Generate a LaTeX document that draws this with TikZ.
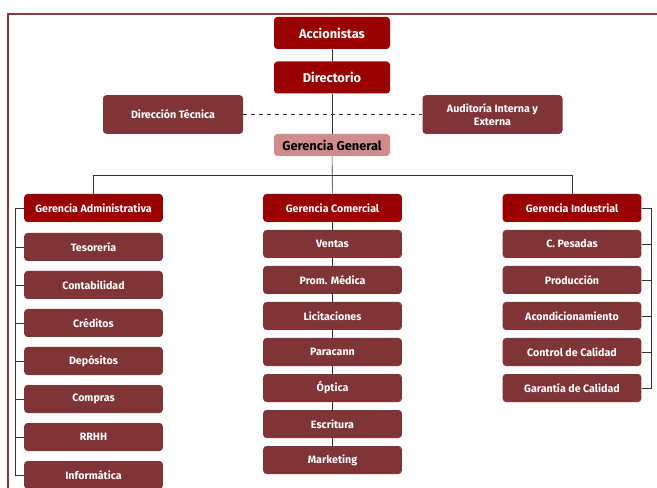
\documentclass[tikz,border=0pt]{standalone}
\usepackage{fontspec}
\setmainfont{Fira Sans}
\usetikzlibrary{backgrounds}
\definecolor{topred}{HTML}{990000}
\definecolor{muted}{HTML}{7F3538}
\definecolor{pinkgg}{HTML}{D08C8C}
\definecolor{framered}{HTML}{8A3A3C}
\tikzset{
  box/.style={fill=muted, text=white, rounded corners=2.5pt, inner sep=0pt,
    minimum width=104pt, minimum height=21pt, align=center,
    font=\fontsize{8}{9.5}\selectfont\bfseries},
  topbox/.style={box, fill=topred, minimum width=87pt, minimum height=24pt,
    font=\fontsize{9.6}{11}\selectfont\bfseries},
  headbox/.style={box, fill=topred},
  sidebox/.style={box, minimum width=105pt, minimum height=29pt},
  link/.style={draw=black!80, line width=0.5pt}
}
\begin{document}
\begin{tikzpicture}[x=0.75pt,y=-0.75pt]
  \useasboundingbox (0,0) rectangle (657,488);
  % frame
  \draw[framered, line width=1.6pt] (8,490) -- (8,14) -- (660,14);
  % top of the chart
  \node[topbox] (acc) at (332,33) {Accionistas};
  \node[topbox] (dir) at (332,77.5) {Directorio};
  \node[sidebox] (dt) at (173,114.5) {Dirección Técnica};
  \node[sidebox] (aud) at (492.5,114.5) {Auditoría Interna y\\Externa};
  \node[topbox, fill=pinkgg, text=black, minimum height=16.5pt] (gg) at (332,145) {Gerencia General};
  % the three managements
  \node[headbox] (ga) at (93.5,208) {Gerencia Administrativa};
  \node[headbox] (gc) at (332.5,208) {Gerencia Comercial};
  \node[headbox] (gi) at (572,208) {Gerencia Industrial};
  % left column
  \foreach \name/\txt [count=\i] in {tes/Tesorería,con/Contabilidad,cre/Créditos,
      dep/Depósitos,com/Compras,rrhh/RRHH,inf/Informática}
    \node[box] (\name) at (93.5,{209+38*\i}) {\txt};
  % middle column
  \foreach \name/\txt [count=\i] in {ven/Ventas,pro/Prom. Médica,lic/Licitaciones,
      par/Paracann,opt/Óptica,esc/Escritura,mkt/Marketing}
    \node[box] (\name) at (332.5,{208+36*\i}) {\txt};
  % right column
  \foreach \name/\txt [count=\i] in {cpe/C. Pesadas,prd/Producción,aco/Acondicionamiento,
      cca/Control de Calidad,gca/Garantía de Calidad}
    \node[box] (\name) at (572,{208+36*\i}) {\txt};
  \coordinate (bus) at (0,175);
  \coordinate (lrail) at (15.5,0);
  \coordinate (rrail) at (651,0);
  \begin{scope}[on background layer]
    \draw[link] (acc) -- (dir);
    \draw[link] (dir) -- (gg);
    \draw[link, dashed] (dt) -- (aud);
    \draw[link] (gg) -- (gc);
    \draw[link] (ga.north) -- (ga.north |- bus) -- (gi.north |- bus) -- (gi.north);
    \draw[link] (gc) -- (mkt);
    \draw[link] (ga.west) -| (lrail |- inf) -- (inf.west);
    \foreach \n in {tes,con,cre,dep,com,rrhh}
      \draw[link] (\n.west) -- (lrail |- \n);
    \draw[link] (gi.east) -| (rrail |- gca) -- (gca.east);
    \foreach \n in {cpe,prd,aco,cca}
      \draw[link] (\n.east) -- (rrail |- \n);
  \end{scope}
\end{tikzpicture}
\end{document}
